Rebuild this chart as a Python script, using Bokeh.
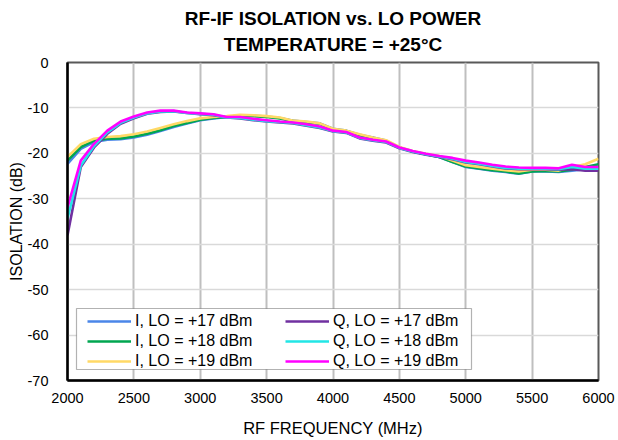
from bokeh.plotting import figure
from bokeh.models import Range1d, FixedTicker, Legend, LegendItem, Title, BoxAnnotation
from bokeh.embed import file_html
from bokeh.resources import INLINE

freq = [2000, 2100, 2200, 2300, 2400, 2500, 2600, 2700, 2800, 2900,
        3000, 3100, 3200, 3300, 3400, 3500, 3600, 3700, 3800, 3900,
        4000, 4100, 4200, 4300, 4400, 4500, 4600, 4700, 4800, 4900,
        5000, 5100, 5200, 5300, 5400, 5500, 5600, 5700, 5800, 5900, 6000]

i_lo17 = [-22.3, -19.0, -17.5, -17.0, -16.9, -16.5, -15.9, -15.1, -14.2, -13.4,
          -12.7, -12.3, -12.0, -11.6, -11.7, -11.9, -12.2, -12.8, -13.1, -13.4,
          -14.6, -15.0, -15.9, -16.5, -17.2, -18.7, -19.6, -20.2, -20.8, -21.9,
          -23.0, -23.4, -23.8, -24.1, -24.5, -24.0, -24.0, -24.1, -23.8, -23.5, -23.4]
i_lo18 = [-21.6, -18.6, -17.2, -16.8, -16.7, -16.3, -15.7, -14.9, -14.0, -13.3,
          -12.6, -12.2, -12.0, -11.7, -11.8, -12.0, -12.3, -12.9, -13.2, -13.5,
          -14.7, -15.1, -16.0, -16.6, -17.3, -18.7, -19.6, -20.2, -20.8, -21.9,
          -22.9, -23.3, -23.7, -24.0, -24.4, -24.0, -23.9, -24.0, -23.6, -23.0, -22.4]
i_lo19 = [-20.8, -18.0, -16.8, -16.4, -16.2, -15.8, -15.2, -14.4, -13.6, -12.9,
          -12.3, -12.0, -11.8, -11.5, -11.6, -11.8, -12.1, -12.8, -13.0, -13.4,
          -14.6, -15.0, -15.8, -16.5, -17.1, -18.6, -19.5, -20.1, -20.6, -21.6,
          -22.6, -23.0, -23.4, -23.7, -24.0, -23.6, -23.6, -23.8, -23.0, -22.4, -21.2]
q_lo17 = [-38.0, -23.0, -18.7, -15.7, -13.5, -12.3, -11.3, -10.9, -10.8, -11.1,
          -11.4, -11.6, -12.1, -12.3, -12.7, -13.0, -13.2, -13.4, -13.9, -14.4,
          -15.2, -15.5, -16.7, -17.2, -17.6, -18.9, -19.7, -20.3, -20.8, -21.3,
          -22.0, -22.4, -22.9, -23.3, -23.5, -23.5, -23.5, -23.6, -23.5, -23.8, -23.8]
q_lo18 = [-34.3, -22.7, -18.4, -15.4, -13.3, -12.1, -11.2, -10.8, -10.7, -11.1,
          -11.3, -11.5, -12.1, -12.2, -12.6, -12.9, -13.1, -13.3, -13.8, -14.3,
          -15.1, -15.4, -16.6, -17.1, -17.5, -18.8, -19.6, -20.2, -20.7, -21.2,
          -21.9, -22.3, -22.8, -23.2, -23.4, -23.4, -23.4, -23.5, -23.0, -23.4, -23.4]
q_lo19 = [-31.9, -21.6, -17.9, -15.0, -13.0, -11.9, -11.0, -10.6, -10.6, -11.0,
          -11.2, -11.4, -12.0, -12.0, -12.4, -12.7, -13.0, -13.2, -13.6, -14.1,
          -15.0, -15.3, -16.5, -17.0, -17.4, -18.7, -19.5, -20.1, -20.6, -21.0,
          -21.6, -22.0, -22.5, -22.9, -23.1, -23.2, -23.2, -23.3, -22.5, -23.0, -23.0]

series_labels = ["I, LO = +17 dBm", "I, LO = +18 dBm", "I, LO = +19 dBm",
                 "Q, LO = +17 dBm", "Q, LO = +18 dBm", "Q, LO = +19 dBm"]
series_values = [i_lo17, i_lo18, i_lo19, q_lo17, q_lo18, q_lo19]
series_colors = ["#4a86e8", "#00a650", "#ffd966", "#7030a0", "#22e6e6", "#ff00ff"]

x_ticks = [2000, 2500, 3000, 3500, 4000, 4500, 5000, 5500, 6000]
y_ticks = [-70, -60, -50, -40, -30, -20, -10, 0]

title_lines = ["RF-IF ISOLATION vs. LO POWER", "TEMPERATURE = +25°C"]
x_label = "RF FREQUENCY (MHz)"
y_label = "ISOLATION (dB)"

FONT = "Liberation Sans"

p = figure(width=618, height=440, output_backend="svg", toolbar_location=None,
           x_range=Range1d(2000, 6000), y_range=Range1d(-70, 0), title=None,
           min_border_left=67, min_border_right=20, min_border_top=62, min_border_bottom=60)

p.background_fill_color = "white"
p.border_fill_color = "white"
p.outline_line_color = "#595959"
p.outline_line_width = 2

renderers = []
for vals, col in zip(series_values, series_colors):
    r = p.line(freq, vals, line_color=col, line_width=2.6)
    renderers.append(r)

for ax in (p.xaxis[0], p.yaxis[0]):
    ax.axis_line_color = "black"
    ax.axis_line_width = 2.5
    ax.major_tick_line_color = None
    ax.minor_tick_line_color = None
    ax.major_label_text_font = FONT
    ax.major_label_text_font_size = "14.5px"
    ax.major_label_text_color = "black"
    ax.axis_label_text_font = FONT
    ax.axis_label_text_font_style = "normal"
    ax.axis_label_text_color = "black"

p.xaxis[0].ticker = FixedTicker(ticks=x_ticks)
p.yaxis[0].ticker = FixedTicker(ticks=y_ticks)
p.yaxis[0].major_label_overrides = {v: str(v) for v in y_ticks}
p.xaxis[0].major_label_standoff = 6
p.yaxis[0].major_label_standoff = 13
p.xaxis[0].axis_label = x_label
p.yaxis[0].axis_label = y_label
p.xaxis[0].axis_label_text_font_size = "16.5px"
p.yaxis[0].axis_label_text_font_size = "16px"
p.xaxis[0].axis_label_standoff = 13
p.yaxis[0].axis_label_standoff = 0

p.xgrid[0].ticker = FixedTicker(ticks=x_ticks)
p.ygrid[0].ticker = FixedTicker(ticks=y_ticks)
p.xgrid[0].grid_line_color = "#bfbfbf"
p.xgrid[0].grid_line_width = 2
p.ygrid[0].grid_line_color = "#d9d9d9"
p.ygrid[0].grid_line_width = 1.5

# two centred title lines: second line sits next to the frame
t2 = Title(text=title_lines[1], align="center", offset=11,
           text_font=FONT, text_font_size="19px", text_font_style="bold",
           text_color="black", standoff=15)
t1 = Title(text=title_lines[0], align="center", offset=11,
           text_font=FONT, text_font_size="19px", text_font_style="bold",
           text_color="black", standoff=-8)
p.add_layout(t2, "above")
p.add_layout(t1, "above")

# legend frame
p.add_layout(BoxAnnotation(left=9, right=404, bottom=11, top=72,
                           left_units="screen", right_units="screen",
                           bottom_units="screen", top_units="screen",
                           fill_color="white", fill_alpha=1.0,
                           line_color="black", line_width=1.2))

items = [LegendItem(label=lab, renderers=[r]) for lab, r in zip(series_labels, renderers)]
legend = Legend(items=items, location=(20, 9), orientation="vertical", nrows=3,
                label_text_font=FONT, label_text_font_size="16px",
                label_text_color="black", glyph_width=44, glyph_height=20,
                label_height=20, label_width=150, label_standoff=4, spacing=0,
                padding=1, margin=0, border_line_color=None,
                background_fill_alpha=0.0)
p.add_layout(legend, "center")

open("out.html", "w").write(file_html(p, INLINE))
